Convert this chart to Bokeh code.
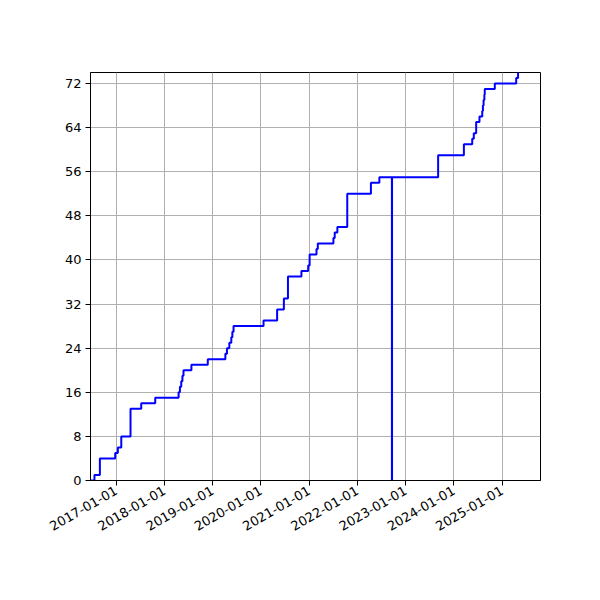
import math
import pandas as pd
from bokeh.plotting import figure
from bokeh.models import Range1d, FixedTicker, DatetimeTickFormatter, ColumnDataSource
from bokeh.embed import file_html
from bokeh.resources import INLINE

dates = [
    "2016-06-15", "2016-07-20", "2016-08-30", "2016-12-24", "2017-01-13", "2017-02-08",
    "2017-04-19", "2017-07-09", "2017-10-23", "2018-04-18", "2018-04-28", "2018-05-08",
    "2018-05-17", "2018-05-25", "2018-07-24", "2018-11-25", "2019-04-07", "2019-04-19",
    "2019-05-07", "2019-05-22", "2019-05-30", "2019-06-08", "2020-01-21", "2020-05-03",
    "2020-06-23", "2020-07-24", "2020-11-03", "2020-12-24", "2021-01-04", "2021-02-25",
    "2021-03-07", "2021-07-03", "2021-07-13", "2021-08-02", "2021-10-16", "2022-04-13",
    "2022-06-16", "2022-09-19", "2022-09-20", "2023-09-04", "2024-03-17", "2024-05-19",
    "2024-05-31", "2024-06-18", "2024-07-13", "2024-08-03", "2024-08-08", "2024-08-13",
    "2024-08-19", "2024-08-22", "2024-11-06", "2025-04-17", "2025-05-01", "2025-05-04",
]
counts = [
    0, 1, 4, 5, 6, 8,
    13, 14, 15, 16, 17, 18,
    19, 20, 21, 22, 23, 24,
    25, 26, 27, 28, 29, 31,
    33, 37, 38, 39, 41, 42,
    43, 44, 45, 46, 52, 54,
    55, 0, 55, 59, 61, 62,
    63, 65, 66, 67, 68, 69,
    70, 71, 72, 73, 74, 75,
]
x_tick_labels = ["2017-01-01", "2018-01-01", "2019-01-01", "2020-01-01", "2021-01-01",
                 "2022-01-01", "2023-01-01", "2024-01-01", "2025-01-01"]
y_ticks = [0, 8, 16, 24, 32, 40, 48, 56, 64, 72]
x_limits = ["2016-06-20", "2025-10-18"]
y_limits = [0, 74]

src = ColumnDataSource(dict(x=pd.to_datetime(dates), y=counts))

p = figure(
    width=584, height=584,
    x_axis_type="datetime",
    x_range=Range1d(pd.Timestamp(x_limits[0]), pd.Timestamp(x_limits[1])),
    y_range=Range1d(*y_limits),
    output_backend="svg", toolbar_location=None,
    min_border_left=90, min_border_right=44, min_border_top=72, min_border_bottom=104,
)
p.frame_width = 450
p.frame_height = 408

p.step("x", "y", source=src, mode="after", line_color="#0000ff", line_width=2)

tick_ms = [pd.Timestamp(t).value / 1e6 for t in x_tick_labels]
p.xaxis.ticker = FixedTicker(ticks=tick_ms)
fmt = "%Y-%m-%d"
p.xaxis.formatter = DatetimeTickFormatter(
    microseconds=fmt, milliseconds=fmt, seconds=fmt, minsec=fmt, minutes=fmt,
    hourmin=fmt, hours=fmt, days=fmt, months=fmt, years=fmt)
p.xaxis.major_label_orientation = math.radians(30)
p.yaxis.ticker = FixedTicker(ticks=y_ticks)

for ax in (p.xaxis[0], p.yaxis[0]):
    ax.major_label_text_font = "DejaVu Sans"
    ax.major_label_text_font_size = "13px"
    ax.major_label_text_color = "black"
    ax.axis_line_color = "black"
    ax.axis_line_width = 1
    ax.major_tick_line_color = "black"
    ax.major_tick_out = 5
    ax.major_tick_in = 0
    ax.minor_tick_out = 0
    ax.minor_tick_in = 0
    ax.major_label_standoff = 4

p.grid.grid_line_color = "#b0b0b0"
p.grid.grid_line_width = 1
p.grid.grid_line_alpha = 1
p.outline_line_color = "black"
p.outline_line_width = 1
p.outline_line_alpha = 1
p.background_fill_color = "white"
p.border_fill_color = "white"

open("out.html", "w").write(file_html(p, INLINE))
